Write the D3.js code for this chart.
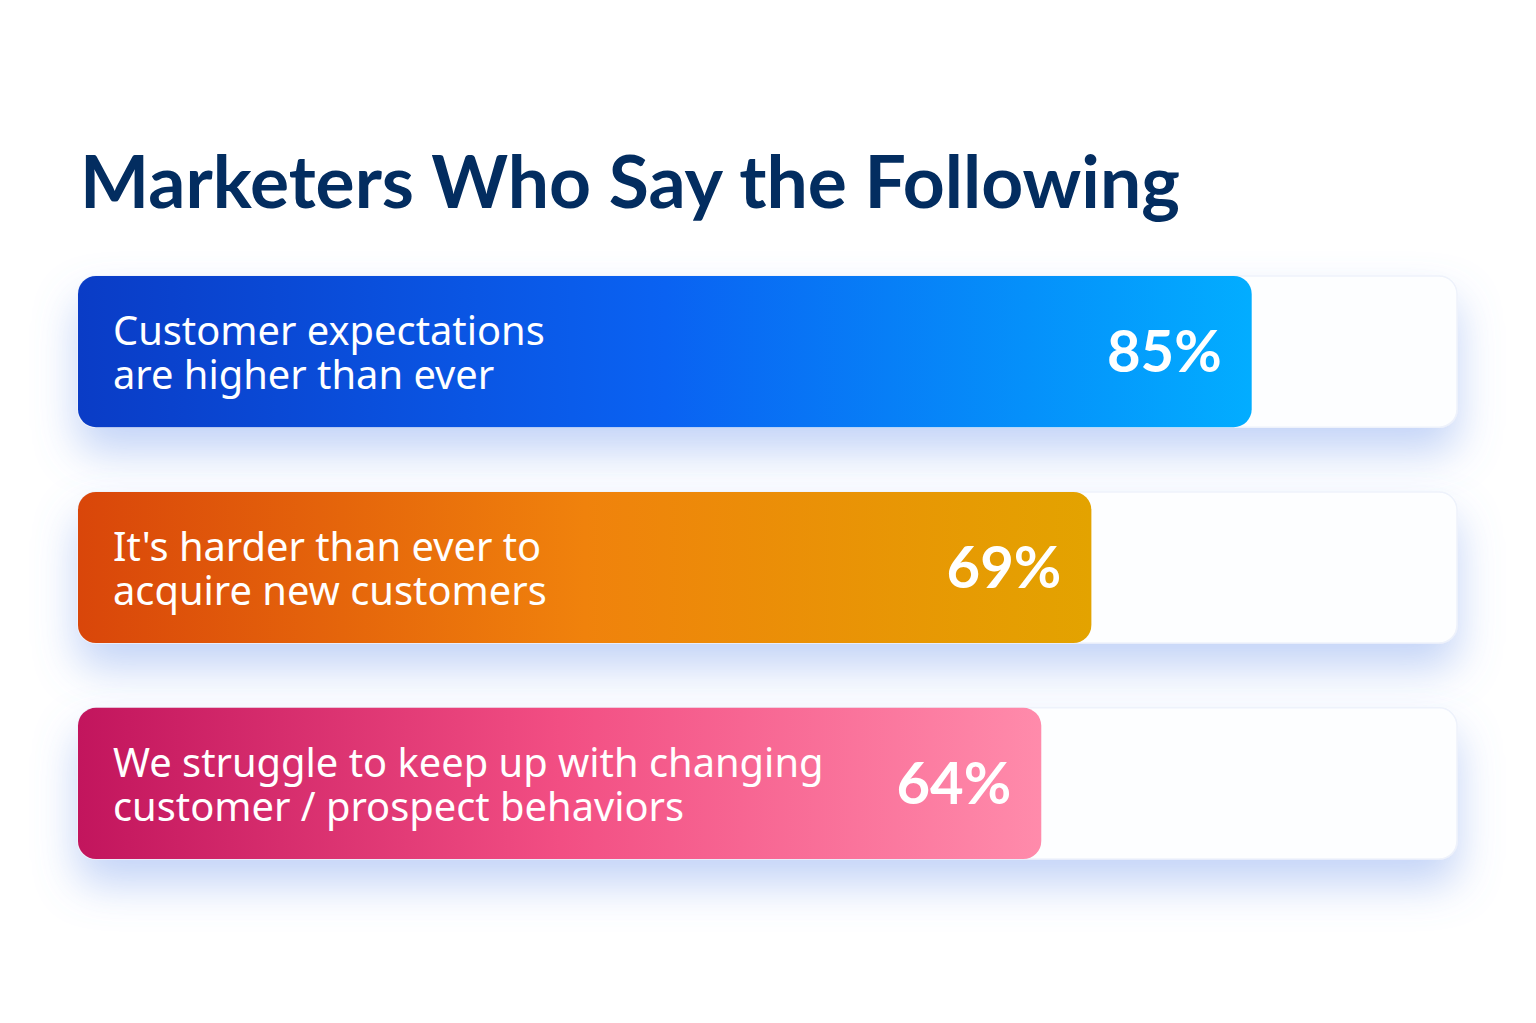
<!DOCTYPE html>
<html>
  <head>
    <meta http-equiv="Content-Type" content="text/html; charset=UTF-8" />
    <title>Marketers Who Say the Following</title>
    <script src="https://d3js.org/d3.v7.min.js"></script>
    <style>
      html, body { margin: 0; padding: 0; background: #ffffff; }
      svg { display: block; }
    </style>
  </head>
  <body>
    <div id="chart"></div>
    <script type="text/javascript">
    // data
    var title = "Marketers Who Say the Following";
    var statements = [
      ["Customer expectations", "are higher than ever"],
      ["It's harder than ever to", "acquire new customers"],
      ["We struggle to keep up with changing", "customer / prospect behaviors"]
    ];
    var values = [85, 69, 64];

    // gradient stops per bar (left, middle, right)
    var palette = [
      ["#0a3cc6", "#0a62f2", "#02adff"],
      ["#d9460a", "#f0820c", "#e3a300"],
      ["#c2155d", "#f24e83", "#ff8bab"]
    ];

    var width = 1536, height = 1023;
    var left = 78, trackEnd = 1457;

    // the infographic is not drawn on a zero based axis, fitted to the bar ends
    var x = d3.scaleLinear().domain([0, 100]).range([400, 1402]);
    var y = d3.scaleBand().domain(d3.range(values.length)).range([276, 859]).paddingInner(0.3).paddingOuter(0);

    var svg = d3.select("#chart").append("svg")
      .attr("width", width)
      .attr("height", height);

    var defs = svg.append("defs");

    var shadow = defs.append("filter").attr("id", "glow")
      .attr("x", "-10%").attr("y", "-40%").attr("width", "120%").attr("height", "200%");
    shadow.append("feDropShadow")
      .attr("dx", 0).attr("dy", 24)
      .attr("stdDeviation", 22)
      .attr("flood-color", "#6f97ec")
      .attr("flood-opacity", 0.42);

    palette.forEach(function(p, i) {
      var g = defs.append("linearGradient").attr("id", "grad" + i)
        .attr("x1", "0%").attr("x2", "100%").attr("y1", "0%").attr("y2", "0%");
      g.append("stop").attr("offset", "0%").attr("stop-color", p[0]);
      g.append("stop").attr("offset", "50%").attr("stop-color", p[1]);
      g.append("stop").attr("offset", "100%").attr("stop-color", p[2]);
    });

    // title, sized to the width it has in the picture
    var t = svg.append("text")
      .attr("x", 80)
      .attr("y", 208)
      .attr("fill", "#032d60")
      .style("font-family", "Lato, 'Open Sans', sans-serif")
      .style("font-weight", 700)
      .style("font-size", "70px")
      .text(title);
    var tw = t.node().getComputedTextLength();
    t.style("font-size", (70 * 1100 / tw) + "px");

    var rows = svg.selectAll("g.row")
      .data(values)
      .enter().append("g")
      .attr("class", "row")
      .attr("transform", function(d, i) { return "translate(0," + y(i) + ")"; });

    rows.append("rect")
      .attr("class", "track")
      .attr("x", left)
      .attr("y", 0)
      .attr("width", trackEnd - left)
      .attr("height", y.bandwidth())
      .attr("rx", 18)
      .attr("fill", "#fdfeff")
      .attr("stroke", "#eef2fb")
      .attr("stroke-width", 1.5)
      .attr("filter", "url(#glow)");

    rows.append("rect")
      .attr("class", "bar")
      .attr("x", left)
      .attr("y", 0)
      .attr("width", function(d) { return x(d) - left; })
      .attr("height", y.bandwidth())
      .attr("rx", 18)
      .attr("fill", function(d, i) { return "url(#grad" + i + ")"; });

    var labels = rows.append("text")
      .attr("x", 113)
      .attr("fill", "#ffffff")
      .style("font-family", "'Noto Sans', 'Open Sans', sans-serif")
      .style("font-size", "36px");
    labels.selectAll("tspan")
      .data(function(d, i) { return statements[i]; })
      .enter().append("tspan")
      .attr("x", 113)
      .attr("y", function(d, j) { return 69 + j * 44; })
      .text(function(d) { return d; });

    // fit label size to the first line width in the picture
    var first = labels.filter(function(d, i) { return i === 0; }).select("tspan").node();
    var lw = first.getComputedTextLength();
    labels.style("font-size", (36 * 432 / lw) + "px");

    rows.append("text")
      .attr("x", function(d) { return x(d) - 30; })
      .attr("y", 96)
      .attr("text-anchor", "end")
      .attr("fill", "#ffffff")
      .style("font-family", "Lato, 'Open Sans', sans-serif")
      .style("font-weight", 700)
      .style("font-size", "58px")
      .text(function(d) { return d + "%"; });
    </script>
  </body>
</html>
